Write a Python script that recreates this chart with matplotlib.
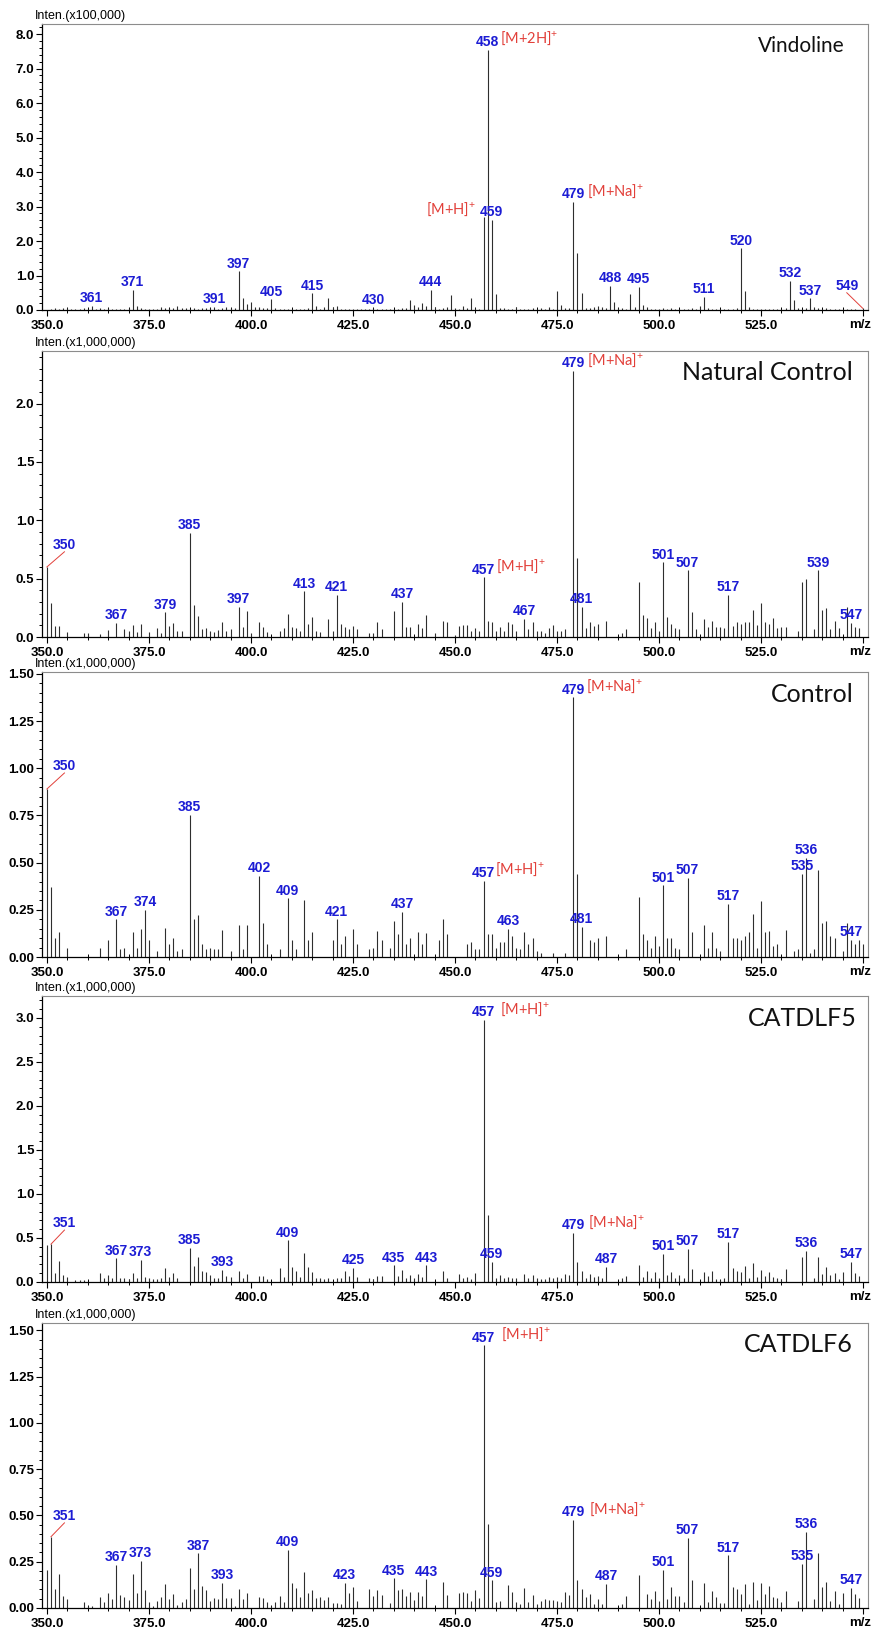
import matplotlib
matplotlib.use("Agg")
import matplotlib.pyplot as plt
from matplotlib.ticker import MultipleLocator, FormatStrFormatter, FixedLocator

plt.rcParams["mathtext.fontset"] = "custom"
plt.rcParams["mathtext.rm"] = "Lato"
plt.rcParams["mathtext.default"] = "rm"

# ---- peak lists (m/z, intensity in axis units) ----
p1_peaks = [
    (351, .04), (352, .05), (353, .04), (354, .06), (355, .07), (356, .03), (357, .04), (358, .03), (359, .05), (360, .04),
    (361, .12), (362, .03), (363, .06), (364, .04), (365, .05), (366, .03), (367, .04), (368, .03), (369, .04), (370, .05),
    (371, .58), (372, .12), (373, .05), (374, .03), (375, .02), (376, .04), (377, .03), (378, .08), (379, .06), (380, .07),
    (381, .06), (382, .12), (383, .05), (384, .07), (385, .04), (386, .06), (387, .03), (388, .05), (389, .07), (390, .05),
    (391, .10), (392, .04), (393, .06), (394, .08), (395, .05), (396, .07), (397, 1.12), (398, .35), (399, .17), (400, .22),
    (401, .08), (402, .08), (403, .07), (404, .05), (405, .31), (406, .05), (407, .03), (408, .04), (409, .03), (410, .02),
    (411, .03), (412, .04), (413, .03), (414, .05), (415, .48), (416, .12), (417, .04), (418, .08), (419, .35), (420, .09),
    (421, .12), (422, .04), (423, .03), (424, .02), (425, .03), (426, .04), (427, .03), (428, .02), (429, .04), (430, .06),
    (431, .03), (432, .04), (433, .03), (434, .02), (435, .03), (436, .04), (437, .05), (438, .06), (439, .28), (440, .14),
    (441, .10), (442, .21), (443, .12), (444, .58), (445, .09), (446, .04), (447, .05), (448, .08), (449, .44), (450, .05),
    (451, .03), (452, .12), (453, .06), (454, .34), (455, .05), (456, .03), (457, 2.70), (458, 7.55), (459, 2.62), (460, .47),
    (461, .06), (462, .05), (463, .04), (464, .03), (465, .08), (466, .04), (467, .03), (468, .04), (469, .05), (470, .03),
    (471, .06), (472, .04), (473, .08), (474, .04), (475, .55), (476, .15), (477, .05), (478, .06), (479, 3.14), (480, 1.65),
    (481, .48), (482, .06), (483, .05), (484, .08), (485, .12), (486, .10), (487, .06), (488, .70), (489, .22), (490, .06),
    (491, .05), (492, .04), (493, .47), (494, .08), (495, .68), (496, .14), (497, .10), (498, .04), (499, .03), (500, .04),
    (501, .05), (502, .03), (503, .06), (504, .04), (505, .03), (506, .04), (507, .03), (508, .05), (509, .03), (510, .13),
    (511, .38), (512, .05), (513, .04), (514, .02), (515, .03), (516, .02), (517, .04), (518, .03), (519, .05), (520, 1.79),
    (521, .56), (522, .10), (523, .04), (524, .03), (525, .02), (526, .03), (527, .04), (528, .03), (529, .02), (530, .03),
    (531, .05), (532, .85), (533, .30), (534, .06), (535, .04), (536, .05), (537, .34), (538, .10), (539, .05), (540, .03),
    (541, .06), (542, .03), (543, .04), (544, .02), (545, .03), (546, .02), (547, .02), (548, .02), (549.9, .05),
]
p1_labels = [361, 371, 391, 397, 405, 415, 430, 444, 458, 459, 479, 488, 495, 511, 520, 532, 537]

p2_peaks = [
    (350, .60), (351, .29), (352, .09), (353, .095), (355, .04), (359, .03), (360, .03), (363, .025), (365, .06), (367, .12),
    (369, .07), (370, .05), (371, .10), (372, .045), (373, .11), (375, .045), (377, .08), (378, .035), (379, .21), (380, .09),
    (381, .12), (382, .05), (383, .05), (385, .89), (386, .27), (387, .18), (388, .065), (389, .075), (390, .05), (391, .045),
    (392, .06), (393, .125), (394, .055), (395, .065), (397, .26), (398, .085), (399, .22), (400, .03), (402, .13), (403, .085),
    (404, .045), (407, .05), (408, .075), (409, .20), (410, .085), (411, .075), (412, .055), (413, .39), (414, .115), (415, .175),
    (416, .05), (417, .045), (419, .15), (420, .05), (421, .36), (422, .11), (423, .085), (424, .07), (425, .095), (426, .07),
    (429, .03), (430, .03), (431, .125), (432, .07), (435, .22), (437, .30), (438, .085), (439, .085), (441, .115), (442, .075),
    (443, .19), (445, .03), (447, .14), (448, .125), (450, .015), (451, .09), (452, .10), (453, .10), (454, .05), (455, .075),
    (456, .055), (457, .51), (458, .14), (459, .125), (460, .055), (461, .085), (462, .05), (463, .13), (464, .11), (465, .05),
    (467, .155), (468, .065), (469, .13), (470, .055), (471, .05), (472, .035), (473, .075), (474, .105), (475, .05), (476, .055),
    (477, .065), (479, 2.28), (480, .68), (481, .26), (482, .075), (483, .13), (484, .095), (485, .115), (487, .14), (491, .035),
    (492, .07), (495, .47), (496, .19), (497, .16), (498, .075), (499, .125), (500, .05), (501, .64), (502, .175), (503, .115),
    (504, .075), (505, .065), (507, .57), (508, .21), (509, .065), (511, .15), (512, .085), (513, .14), (514, .085), (515, .085),
    (516, .075), (517, .36), (518, .095), (519, .125), (520, .115), (521, .13), (522, .125), (523, .235), (524, .10), (525, .295),
    (526, .125), (527, .115), (528, .16), (529, .075), (530, .085), (531, .085), (534, .05), (535, .47), (536, .50), (538, .07),
    (539, .57), (540, .235), (541, .245), (542, .065), (543, .135), (544, .075), (546, .26), (547, .12), (548, .085), (549, .075),
]
p2_labels = [367, 379, 385, 397, 413, 421, 437, 457, 467, 479, 481, 501, 507, 517, 539, 547]

p3_peaks = [
    (350, .89), (351, .37), (352, .10), (353, .13), (355, .05), (363, .05), (365, .09), (367, .20), (368, .04), (369, .05),
    (371, .13), (372, .05), (373, .15), (374, .25), (375, .09), (377, .03), (379, .155), (380, .07), (381, .10), (382, .03),
    (383, .04), (385, .755), (386, .20), (387, .22), (388, .07), (389, .04), (390, .05), (391, .04), (392, .04), (393, .145),
    (395, .03), (397, .17), (398, .04), (399, .17), (402, .43), (403, .18), (404, .07), (407, .04), (409, .31), (410, .09),
    (411, .04), (413, .30), (414, .09), (415, .13), (420, .09), (421, .20), (422, .07), (423, .11), (425, .15), (426, .07),
    (429, .04), (430, .05), (431, .14), (432, .09), (434, .05), (435, .19), (436, .12), (437, .24), (438, .07), (439, .10),
    (441, .13), (442, .07), (443, .125), (446, .09), (447, .20), (448, .12), (453, .07), (454, .08), (455, .04), (456, .04),
    (457, .405), (458, .12), (459, .12), (460, .05), (461, .08), (462, .08), (463, .15), (464, .11), (465, .05), (466, .04),
    (467, .135), (468, .07), (469, .10), (470, .03), (471, .02), (474, .02), (477, .02), (479, 1.375), (480, .44), (481, .16),
    (483, .09), (484, .08), (485, .10), (487, .11), (492, .04), (495, .32), (496, .12), (497, .09), (498, .05), (499, .11),
    (500, .06), (501, .38), (502, .10), (503, .10), (504, .05), (505, .04), (507, .42), (508, .13), (511, .17), (512, .05),
    (513, .135), (514, .05), (515, .03), (517, .28), (518, .10), (519, .10), (520, .09), (521, .11), (522, .135), (523, .23),
    (524, .05), (525, .295), (526, .13), (527, .14), (528, .06), (529, .07), (531, .145), (533, .03), (534, .04), (535, .44),
    (536, .525), (537, .02), (538, .04), (539, .46), (540, .18), (541, .19), (542, .11), (543, .10), (545, .03), (546, .18),
    (547, .09), (548, .07), (549, .09), (550, .07),
]
p3_labels = [367, 374, 385, 402, 409, 421, 437, 457, 463, 479, 481, 501, 507, 517, 535, 536, 547]

p4_peaks = [
    (350, .42), (351, .43), (352, .10), (353, .235), (354, .075), (355, .06), (357, .02), (358, .02), (359, .02), (363, .10),
    (364, .04), (365, .085), (366, .05), (367, .27), (368, .05), (369, .04), (370, .03), (371, .10), (372, .05), (373, .25),
    (374, .06), (375, .04), (376, .03), (377, .03), (378, .04), (379, .16), (380, .06), (381, .10), (382, .04), (385, .39),
    (386, .18), (387, .285), (388, .12), (389, .11), (390, .08), (391, .05), (392, .05), (393, .14), (394, .07), (395, .06),
    (397, .13), (398, .05), (399, .09), (402, .07), (403, .07), (404, .03), (407, .16), (408, .06), (409, .475), (410, .17),
    (411, .13), (412, .06), (413, .335), (414, .165), (415, .115), (416, .04), (417, .05), (418, .03), (419, .05), (421, .05),
    (422, .05), (423, .12), (424, .07), (425, .16), (426, .06), (429, .05), (430, .03), (431, .07), (432, .07), (435, .19),
    (436, .07), (437, .14), (438, .04), (439, .08), (440, .04), (441, .09), (442, .06), (443, .19), (447, .13), (448, .04),
    (451, .095), (452, .05), (453, .06), (454, .03), (455, .10), (457, 2.98), (458, .76), (459, .23), (460, .04), (461, .08),
    (462, .05), (463, .06), (464, .05), (465, .04), (467, .09), (468, .05), (469, .08), (470, .04), (471, .03), (472, .03),
    (473, .06), (474, .04), (475, .06), (476, .04), (477, .09), (478, .08), (479, .56), (480, .23), (481, .13), (482, .05),
    (483, .09), (484, .06), (485, .07), (486, .04), (487, .17), (491, .05), (492, .07), (495, .19), (496, .06), (497, .12),
    (498, .05), (499, .11), (500, .04), (501, .32), (502, .08), (503, .11), (504, .05), (505, .08), (506, .04), (507, .38),
    (508, .15), (511, .11), (512, .07), (513, .12), (514, .03), (515, .02), (516, .04), (517, .455), (518, .16), (519, .13),
    (520, .11), (521, .18), (522, .04), (523, .215), (524, .06), (525, .14), (526, .07), (527, .11), (528, .06), (529, .05),
    (530, .03), (531, .15), (535, .28), (536, .355), (538, .04), (539, .28), (540, .09), (541, .17), (542, .08), (543, .10),
    (544, .03), (545, .11), (547, .23), (548, .10), (549, .07),
]
p4_labels = [367, 373, 385, 393, 409, 425, 435, 443, 457, 459, 479, 487, 501, 507, 517, 536, 547]

p5_peaks = [
    (350, .205), (351, .385), (352, .105), (353, .185), (354, .067), (355, .05), (359, .03), (360, .01), (361, .01), (363, .06),
    (364, .03), (365, .08), (366, .05), (367, .235), (368, .07), (369, .06), (370, .045), (371, .185), (372, .08), (373, .255),
    (374, .095), (375, .03), (376, .01), (377, .04), (378, .06), (379, .13), (380, .05), (381, .075), (382, .015), (383, .03),
    (384, .05), (385, .215), (386, .10), (387, .295), (388, .12), (389, .095), (390, .04), (391, .055), (392, .05), (393, .135),
    (394, .055), (395, .055), (396, .01), (397, .105), (398, .05), (399, .08), (402, .06), (403, .055), (404, .03), (405, .01),
    (406, .03), (407, .065), (408, .03), (409, .315), (410, .135), (411, .11), (412, .06), (413, .195), (414, .08), (415, .095),
    (416, .055), (417, .06), (418, .045), (419, .06), (420, .025), (421, .025), (422, .02), (423, .135), (424, .08), (425, .115),
    (426, .04), (429, .10), (430, .065), (431, .095), (432, .07), (434, .025), (435, .16), (436, .095), (437, .105), (438, .065),
    (439, .085), (440, .045), (441, .085), (442, .065), (443, .155), (447, .14), (448, .07), (451, .08), (452, .085), (453, .08),
    (454, .04), (455, .095), (456, .055), (457, 1.42), (458, .455), (459, .15), (460, .03), (461, .04), (463, .125), (464, .085),
    (465, .03), (466, .02), (467, .11), (468, .035), (469, .07), (470, .02), (471, .04), (472, .05), (473, .045), (474, .045),
    (475, .04), (476, .03), (477, .085), (478, .07), (479, .475), (480, .15), (481, .105), (482, .06), (483, .075), (484, .02),
    (485, .05), (486, .02), (487, .13), (491, .02), (492, .065), (495, .18), (497, .075), (498, .05), (499, .09), (500, .04),
    (501, .205), (502, .05), (503, .115), (504, .065), (505, .065), (506, .03), (507, .38), (508, .15), (511, .135), (512, .035),
    (513, .09), (514, .06), (515, .025), (516, .025), (517, .285), (518, .115), (519, .105), (520, .075), (521, .13), (522, .02),
    (523, .14), (524, .045), (525, .135), (526, .075), (527, .12), (528, .06), (529, .055), (530, .03), (531, .09), (534, .04),
    (535, .24), (536, .41), (538, .05), (539, .295), (540, .115), (541, .14), (542, .04), (543, .09), (544, .02), (545, .08),
    (547, .11), (548, .075), (549, .055),
]
p5_labels = [367, 373, 387, 393, 409, 423, 435, 443, 457, 459, 479, 487, 501, 507, 517, 535, 536, 547]

# (peak m/z, label text, label x, label bottom y) for labels pulled off with a red leader line
p1_leader = (549.9, "549", 546.0, 0.50)
p2_leader = (350, "350", 354.3, 0.73)
p3_leader = (350, "350", 354.3, 0.975)
p4_leader = (351, "351", 354.3, 0.59)
p5_leader = (351, "351", 354.3, 0.46)

# (peak m/z, ion text, pixel offset of the text edge from the stick)
p1_ions = [(458, "[M+2H]", 12), (459, "[M+H]", -16), (479, "[M+Na]", 14)]
p2_ions = [(457, "[M+H]", 12), (479, "[M+Na]", 14)]
p3_ions = [(457, "[M+H]", 11), (479, "[M+Na]", 13)]
p4_ions = [(457, "[M+H]", 16), (479, "[M+Na]", 15)]
p5_ions = [(457, "[M+H]", 17), (479, "[M+Na]", 16)]

names = ["Vindoline", "Natural Control", "Control", "CATDLF5", "CATDLF6"]
scales = ["(x100,000)", "(x1,000,000)", "(x1,000,000)", "(x1,000,000)", "(x1,000,000)"]

W, H = 873.0, 1632.0
PT = 72.0 / 100.0  # points per pixel
BLUE = "#1c1cd4"
RED = "#e2403a"

panels = [
    dict(peaks=p1_peaks, labels=p1_labels, leader=p1_leader, ions=p1_ions, box=(24, 310),
         ymax=8.29, major=1.0, minor=0.2, fmt="%.1f", name_size=15, name_x=0.972),
    dict(peaks=p2_peaks, labels=p2_labels, leader=p2_leader, ions=p2_ions, box=(351, 637),
         ymax=2.45, major=0.5, minor=0.1, fmt="%.1f", name_size=18, name_x=0.981),
    dict(peaks=p3_peaks, labels=p3_labels, leader=p3_leader, ions=p3_ions, box=(672, 957),
         ymax=1.51, major=0.25, minor=0.05, fmt="%.2f", name_size=18, name_x=0.982),
    dict(peaks=p4_peaks, labels=p4_labels, leader=p4_leader, ions=p4_ions, box=(996, 1282),
         ymax=3.25, major=0.5, minor=0.1, fmt="%.1f", name_size=18, name_x=0.986),
    dict(peaks=p5_peaks, labels=p5_labels, leader=p5_leader, ions=p5_ions, box=(1323, 1608),
         ymax=1.54, major=0.25, minor=0.05, fmt="%.2f", name_size=18, name_x=0.981),
]

fig = plt.figure(figsize=(W / 100, H / 100), dpi=100)

for i, p in enumerate(panels):
    top, bot = p["box"]
    ax = fig.add_axes([42 / W, 1 - bot / H, 826 / W, (bot - top) / H])
    mz = [a for a, b in p["peaks"]]
    inten = [b for a, b in p["peaks"]]
    height = dict(p["peaks"])

    ax.vlines(mz, 0, inten, color="#2e2e2e", lw=0.8)
    ax.set_xlim(348.8, 551.2)
    ax.set_ylim(0, p["ymax"])

    # axes styling, Shimadzu-like
    for s in ["top", "right"]:
        ax.spines[s].set_color("#8c8c8c")
        ax.spines[s].set_linewidth(0.8)
    for s in ["left", "bottom"]:
        ax.spines[s].set_linewidth(0.9)
    ax.xaxis.set_major_locator(FixedLocator([350, 375, 400, 425, 450, 475, 500, 525, 550]))
    ax.xaxis.set_minor_locator(MultipleLocator(5))
    ax.set_xticklabels(["350.0", "375.0", "400.0", "425.0", "450.0", "475.0", "500.0", "525.0", ""])
    ax.yaxis.set_major_locator(MultipleLocator(p["major"]))
    ax.yaxis.set_minor_locator(MultipleLocator(p["minor"]))
    ax.yaxis.set_major_formatter(FormatStrFormatter(p["fmt"]))
    ax.tick_params(axis="x", which="major", direction="out", length=4, width=0.8, pad=3)
    ax.tick_params(axis="x", which="minor", direction="inout", length=4, width=0.7)
    ax.tick_params(axis="y", which="major", direction="out", length=4, width=0.8, pad=1.5)
    ax.tick_params(axis="y", which="minor", direction="out", length=2.5, width=0.7)
    for t in ax.get_xticklabels() + ax.get_yticklabels():
        t.set_fontfamily("Liberation Sans")
        t.set_fontweight("bold")
        t.set_fontsize(9.5)

    # intensity unit label above the axis
    ax.text(-7 / 826, 1 + 2 / (bot - top), "Inten." + scales[i], transform=ax.transAxes,
            ha="left", va="bottom", fontsize=9, family="Liberation Sans")
    fig.text(871 / W, 1 - (bot + 15) / H, "m/z", ha="right", va="center",
             fontsize=9.5, family="Liberation Sans", weight="bold")

    # sample name
    ax.text(p["name_x"], 1 - 22 / (bot - top), names[i], transform=ax.transAxes, ha="right",
            va="center", fontsize=p["name_size"], family="Lato", color="#111111")

    # blue peak labels
    for m in p["labels"]:
        ax.annotate(str(int(m)), xy=(m, height[m]), xytext=(0, 0.5), textcoords="offset points",
                    ha="center", va="bottom", color=BLUE, fontsize=10,
                    family="Liberation Sans", weight="bold")

    # label moved aside with a red leader line
    pk, txt, lx, ly = p["leader"]
    ax.plot([pk, lx], [height[pk], ly], color=RED, lw=0.7)
    ax.text(lx, ly, txt, ha="center", va="bottom", color=BLUE, fontsize=10,
            family="Liberation Sans", weight="bold")

    # red ion annotations
    for m, ion, dx in p["ions"]:
        ax.annotate(ion + "$^{+}$", xy=(m, height[m]), xytext=(dx * PT, 1.5),
                    textcoords="offset points", ha="left" if dx > 0 else "right",
                    va="bottom", color=RED, fontsize=10.5, family="Lato")

fig.savefig("out.png", dpi=100)
